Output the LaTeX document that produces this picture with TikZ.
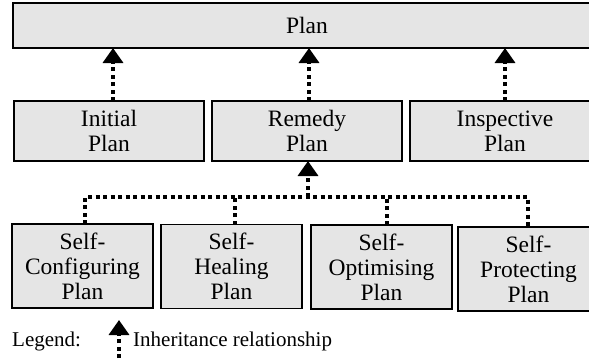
\documentclass[tikz,border=0pt]{standalone}
\usepackage{fontspec}
\setmainfont{Liberation Serif}
\usetikzlibrary{arrows.meta}
\begin{document}
\begin{tikzpicture}[x=1pt,y=-1pt,
  planbox/.style={draw=black, line width=1.8pt, fill=black!10, inner sep=0pt, outer sep=0pt,
    align=center, font=\fontsize{23.5}{25}\selectfont},
  dotline/.style={line width=3.5pt, dash pattern=on 4pt off 3.5pt},
  inherit/.style={dotline, -{Triangle[width=20pt,length=15pt]}},
  legendtext/.style={font=\fontsize{21}{23}\selectfont, inner sep=0pt, anchor=base west}]
\clip (0,0) rectangle (589,360);

% top level
\node[planbox, minimum width=588pt, minimum height=45pt] (plan) at (307,25.5) {Plan};

% second level
\node[planbox, minimum width=190pt, minimum height=60pt] (init) at (109,131) {Initial\\Plan};
\node[planbox, minimum width=190pt, minimum height=60pt] (remedy) at (307,131) {Remedy\\Plan};
\node[planbox, minimum width=190pt, minimum height=60pt] (insp) at (505,131) {Inspective\\Plan};

% third level
\node[planbox, minimum width=141pt, minimum height=84pt] (cfg) at (82.5,266) {Self-\\Configuring\\Plan};
\node[planbox, minimum width=141pt, minimum height=84pt] (heal) at (231.5,266.5) {Self-\\Healing\\Plan};
\node[planbox, minimum width=141pt, minimum height=84pt] (opt) at (381.5,267) {Self-\\Optimising\\Plan};
\node[planbox, minimum width=141pt, minimum height=84pt] (prot) at (528.5,269) {Self-\\Protecting\\Plan};

% inheritance from the second level
\draw[inherit] ([xshift=4pt]init.north) -- ([xshift=4pt]init.north |- plan.south);
\draw[inherit] ([xshift=2pt]remedy.north) -- ([xshift=2pt]remedy.north |- plan.south);
\draw[inherit] (insp.north) -- (insp.north |- plan.south);

% inheritance from the third level
\coordinate (bus) at (308,197);
\draw[dotline] ([xshift=2.5pt]cfg.north) |- ([xshift=-0.5pt]prot.north |- bus) -- ([xshift=-0.5pt]prot.north);
\draw[dotline] ([xshift=3.5pt]heal.north) -- ([xshift=3.5pt]heal.north |- bus);
\draw[dotline] ([xshift=5.5pt]opt.north) -- ([xshift=5.5pt]opt.north |- bus);
\draw[inherit] (bus) -- (bus |- remedy.south);

% legend
\node[legendtext] (lg) at (12,346) {Legend:};
\coordinate (lgbot) at (119,358);
\coordinate (lgtop) at (119,320);
\draw[inherit] (lgbot) -- (lgtop);
\node[legendtext] (lgtxt) at (133,346) {Inheritance relationship};
\end{tikzpicture}
\end{document}
